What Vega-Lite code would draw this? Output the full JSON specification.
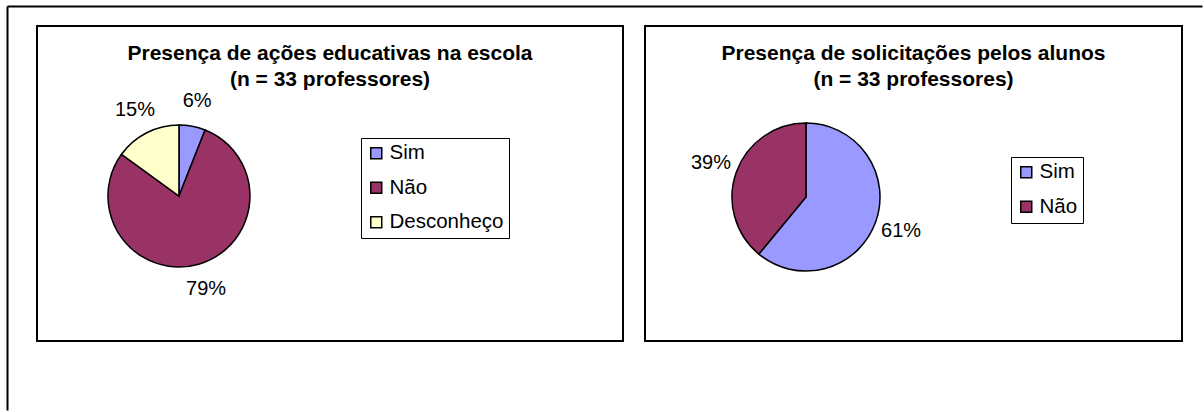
{
  "$schema": "https://vega.github.io/schema/vega-lite/v6.json",
  "padding": {"left": 6, "top": 5, "right": 0, "bottom": 0},
  "background": "white",
  "spacing": 22,
  "bounds": "flush",
  "resolve": {"scale": {"color": "independent", "theta": "independent"}, "legend": {"color": "independent"}},
  "config": {
    "font": "Liberation Sans",
    "view": {"stroke": "black", "strokeWidth": 2},
    "title": {"font": "Liberation Sans", "fontSize": 21, "fontWeight": "bold", "color": "black", "anchor": "middle", "lineHeight": 26.5},
    "legend": {"labelFont": "Liberation Sans", "labelColor": "black"}
  },
  "hconcat": [
    {
      "width": 586,
      "height": 315,
      "title": {"text": ["Presença de ações educativas na escola", "(n = 33 professores)"], "offset": -84},
      "data": {"values": [
        {"grafico": "Presença de ações educativas na escola", "resposta": "Sim", "ordem": 1, "proporcao": 0.06},
        {"grafico": "Presença de ações educativas na escola", "resposta": "Não", "ordem": 2, "proporcao": 0.79},
        {"grafico": "Presença de ações educativas na escola", "resposta": "Desconheço", "ordem": 3, "proporcao": 0.15}
      ]},
      "encoding": {
        "x": {"field": "grafico", "type": "nominal", "scale": {"type": "point", "range": [-30, 1165], "align": 0.1439},
              "axis": {"orient": "top", "offset": 20, "domain": true, "domainColor": "black", "domainWidth": 2, "ticks": false, "labels": false, "title": null, "grid": false, "zindex": 2}},
        "y": {"field": "grafico", "type": "nominal", "scale": {"type": "point", "range": [-20, 384], "align": 0.4703},
              "axis": {"orient": "left", "offset": 30, "domain": true, "domainColor": "black", "domainWidth": 2, "ticks": false, "labels": false, "title": null, "grid": false, "zindex": 2}},
        "theta": {"field": "proporcao", "type": "quantitative", "stack": true},
        "order": {"field": "ordem", "type": "quantitative"}
      },
      "layer": [
        {
          "mark": {"type": "arc", "outerRadius": 71, "stroke": "black", "strokeWidth": 1.5},
          "encoding": {
            "color": {"field": "resposta", "type": "nominal",
              "scale": {"domain": ["Sim", "Não", "Desconheço"], "range": ["#9999FF", "#993366", "#FFFFCC"]},
              "legend": {"title": null, "orient": "none", "legendX": 324, "legendY": 112, "direction": "vertical",
                "symbolType": "square", "symbolSize": 121, "symbolStrokeColor": "black", "symbolStrokeWidth": 1.5,
                "labelFontSize": 20.5, "labelOffset": 3, "rowPadding": 13.5, "padding": 5,
                "strokeColor": "black"}}
          }
        },
        {
          "mark": {"type": "text", "radius": 97, "fontSize": 20, "color": "black", "font": "Liberation Sans"},
          "encoding": {
            "detail": {"field": "resposta", "type": "nominal"},
            "text": {"field": "proporcao", "type": "quantitative", "format": ".0%"}
          }
        }
      ]
    },
    {
      "width": 537,
      "height": 315,
      "title": {"text": ["Presença de solicitações pelos alunos", "(n = 33 professores)"], "offset": -64},
      "data": {"values": [
        {"grafico": "Presença de solicitações pelos alunos", "resposta": "Sim", "ordem": 1, "proporcao": 0.61},
        {"grafico": "Presença de solicitações pelos alunos", "resposta": "Não", "ordem": 2, "proporcao": 0.39}
      ]},
      "encoding": {
        "x": {"field": "grafico", "type": "nominal", "scale": {"type": "point", "range": [0, 537], "align": 0.2998}, "axis": null},
        "y": {"field": "grafico", "type": "nominal", "scale": {"type": "point", "range": [0, 315], "align": 0.543}, "axis": null},
        "theta": {"field": "proporcao", "type": "quantitative", "stack": true},
        "order": {"field": "ordem", "type": "quantitative"}
      },
      "layer": [
        {
          "mark": {"type": "arc", "outerRadius": 74, "stroke": "black", "strokeWidth": 1.5},
          "encoding": {
            "color": {"field": "resposta", "type": "nominal",
              "scale": {"domain": ["Sim", "Não"], "range": ["#9999FF", "#993366"]},
              "legend": {"title": null, "orient": "none", "legendX": 366, "legendY": 131, "direction": "vertical",
                "symbolType": "square", "symbolSize": 121, "symbolStrokeColor": "black", "symbolStrokeWidth": 1.5,
                "labelFontSize": 20.5, "labelOffset": 3, "rowPadding": 13.5, "padding": 5,
                "strokeColor": "black"}}
          }
        },
        {
          "mark": {"type": "text", "radius": 101, "fontSize": 20, "color": "black", "font": "Liberation Sans"},
          "encoding": {
            "detail": {"field": "resposta", "type": "nominal"},
            "text": {"field": "proporcao", "type": "quantitative", "format": ".0%"}
          }
        }
      ]
    }
  ]
}
